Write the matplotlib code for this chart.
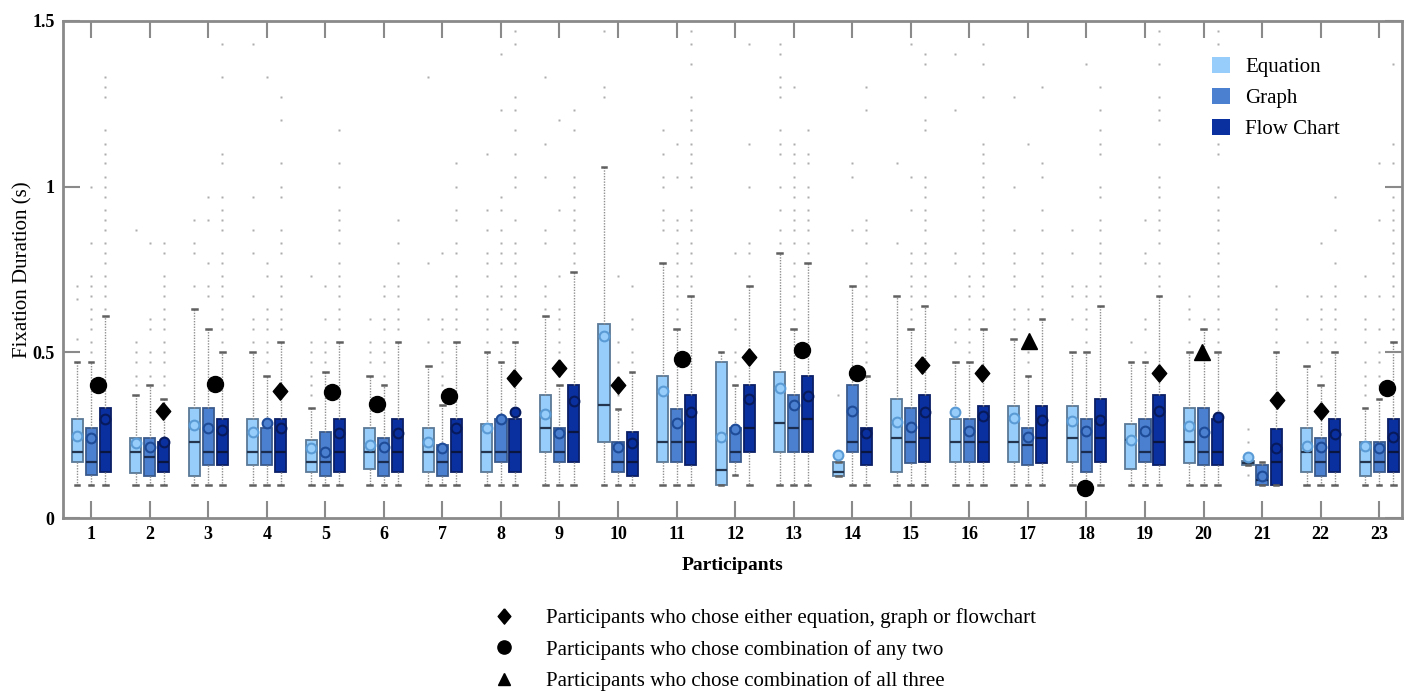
"""Fixation duration box plots per participant (Equation / Graph / Flow Chart)."""
import matplotlib

matplotlib.use("Agg")
import matplotlib.pyplot as plt
from matplotlib.lines import Line2D
from matplotlib.patches import Patch

plt.rcParams["font.family"] = ["Liberation Serif", "DejaVu Serif"]

# ---------------------------------------------------------------- data
participants = list(range(1, 24))
series_names = ["Equation", "Graph", "Flow Chart"]
y_ticks = [0, 0.5, 1, 1.5]
y_tick_labels = ["0", "0.5", "1", "1.5"]

eq_q1 = [0.17, 0.135, 0.128, 0.16, 0.138, 0.148, 0.138, 0.138, 0.20, 0.23, 0.17, 0.10,
         0.20, 0.128, 0.138, 0.17, 0.17, 0.17, 0.148, 0.165, 0.16, 0.138, 0.128]
eq_med = [0.20, 0.20, 0.23, 0.20, 0.17, 0.20, 0.20, 0.20, 0.271, 0.341, 0.23, 0.145,
          0.286, 0.138, 0.241, 0.23, 0.23, 0.241, 0.236, 0.23, 0.165, 0.198, 0.17]
eq_q3 = [0.30, 0.241, 0.331, 0.30, 0.236, 0.271, 0.271, 0.284, 0.37, 0.586, 0.43, 0.47,
         0.44, 0.168, 0.36, 0.30, 0.339, 0.339, 0.284, 0.331, 0.172, 0.271, 0.23]
eq_lo = [0.10, 0.10, 0.10, 0.10, 0.10, 0.10, 0.10, 0.10, 0.10, 0.10, 0.10, 0.10,
         0.10, 0.128, 0.10, 0.10, 0.10, 0.10, 0.10, 0.10, 0.16, 0.10, 0.10]
eq_hi = [0.47, 0.37, 0.631, 0.50, 0.331, 0.43, 0.46, 0.50, 0.611, 1.06, 0.77, 0.50,
         0.80, 0.168, 0.67, 0.47, 0.54, 0.50, 0.47, 0.50, 0.172, 0.46, 0.331]
eq_mean = [0.249, 0.225, 0.281, 0.261, 0.21, 0.219, 0.229, 0.271, 0.313, 0.55, 0.382, 0.244,
           0.392, 0.189, 0.289, 0.319, 0.301, 0.294, 0.234, 0.278, 0.183, 0.217, 0.217]
eq_fliers = [
    [0.54, 0.66, 0.70],
    [0.40, 0.43, 0.47, 0.50, 0.53, 0.87],
    [0.70, 0.80, 0.83, 0.90],
    [0.53, 0.57, 0.60, 0.67, 0.80, 0.87, 0.97, 1.43],
    [0.37, 0.40, 0.43, 0.47, 0.50, 0.53, 0.73],
    [0.47, 0.50, 0.53, 0.60],
    [0.53, 0.60, 0.77, 1.33],
    [0.53, 0.57, 0.60, 0.63, 0.67, 0.73, 0.77, 0.80, 0.87, 0.93, 1.10],
    [0.63, 0.67, 0.70, 0.83, 0.87, 1.03, 1.13, 1.33],
    [1.27, 1.30, 1.47],
    [0.87, 0.90, 0.93, 1.00, 1.03, 1.10, 1.17],
    [],
    [0.83, 0.87, 0.93, 1.00, 1.10, 1.13, 1.17, 1.27, 1.30, 1.33, 1.40, 1.43],
    [0.37],
    [0.83, 1.07],
    [0.53, 0.57, 0.67, 0.77, 0.80, 1.23, 1.40],
    [0.57, 0.60, 0.63, 0.70, 0.73, 0.77, 0.80, 0.87, 1.00, 1.27],
    [0.60, 0.67, 0.70, 0.80, 0.87],
    [0.53],
    [0.53, 0.60, 0.63, 0.67],
    [0.13, 0.23, 0.27],
    [0.53, 0.60, 0.67],
    [0.37, 0.40, 0.43, 0.47, 0.53, 0.57, 0.60, 0.67, 0.73],
]

gr_q1 = [0.13, 0.128, 0.16, 0.16, 0.128, 0.128, 0.128, 0.17, 0.17, 0.138, 0.17, 0.17,
         0.20, 0.20, 0.165, 0.17, 0.16, 0.138, 0.17, 0.16, 0.10, 0.128, 0.138]
gr_med = [0.17, 0.185, 0.20, 0.20, 0.17, 0.17, 0.17, 0.20, 0.20, 0.17, 0.23, 0.20,
          0.271, 0.23, 0.23, 0.23, 0.22, 0.20, 0.20, 0.20, 0.115, 0.17, 0.17]
gr_q3 = [0.271, 0.241, 0.331, 0.271, 0.259, 0.241, 0.22, 0.30, 0.271, 0.23, 0.329, 0.273,
         0.37, 0.40, 0.331, 0.30, 0.271, 0.30, 0.30, 0.331, 0.16, 0.241, 0.23]
gr_lo = [0.10, 0.10, 0.10, 0.10, 0.10, 0.10, 0.10, 0.10, 0.10, 0.10, 0.10, 0.13,
         0.10, 0.10, 0.10, 0.10, 0.10, 0.10, 0.10, 0.10, 0.10, 0.10, 0.10]
gr_hi = [0.47, 0.40, 0.571, 0.43, 0.44, 0.40, 0.34, 0.47, 0.40, 0.329, 0.571, 0.40,
         0.571, 0.70, 0.571, 0.47, 0.43, 0.50, 0.47, 0.571, 0.17, 0.40, 0.36]
gr_mean = [0.243, 0.215, 0.273, 0.287, 0.198, 0.215, 0.21, 0.299, 0.256, 0.215, 0.286, 0.268,
           0.341, 0.323, 0.276, 0.263, 0.246, 0.263, 0.263, 0.259, 0.128, 0.215, 0.21]
gr_fliers = [
    [0.50, 0.53, 0.57, 0.60, 0.63, 0.67, 0.70, 0.73, 0.83, 1.00],
    [0.43, 0.47, 0.50, 0.57, 0.60, 0.83],
    [0.67, 0.70, 0.77, 0.90, 0.97],
    [0.47, 0.50, 0.53, 0.57, 0.60, 0.63, 0.73, 0.77, 1.33],
    [0.47, 0.50, 0.53, 0.60, 0.70],
    [0.43, 0.47, 0.50, 0.53, 0.57, 0.60, 0.67, 0.70],
    [0.37, 0.40, 0.43, 0.47, 0.50, 0.53, 0.57, 0.60, 0.80],
    [0.50, 0.53, 0.57, 0.63, 0.67, 0.70, 0.77, 0.80, 0.83, 0.87, 0.93, 0.97, 1.23, 1.40],
    [0.43, 0.47, 0.50, 0.53, 0.57, 0.60, 0.63, 0.73, 0.93, 1.20],
    [0.37, 0.40, 0.47, 0.53, 0.73],
    [0.60, 0.63, 0.67, 0.70, 0.73, 0.77, 0.80, 0.83, 0.87, 0.90, 1.03, 1.13],
    [0.43, 0.47, 0.50, 0.57, 0.60, 0.80],
    [0.60, 0.63, 0.67, 0.70, 0.73, 0.77, 0.83, 0.87, 0.90, 0.93, 0.97, 1.00, 1.03, 1.07,
     1.10, 1.13, 1.30],
    [0.87, 1.03, 1.07],
    [0.60, 0.63, 0.67, 0.70, 0.73, 0.77, 0.80, 0.93, 1.03, 1.43],
    [0.50, 0.53, 0.57, 0.60, 0.67, 0.70, 0.73],
    [0.47, 0.50, 0.53, 0.60, 0.63, 1.13],
    [0.53, 0.57, 0.60, 0.63, 0.67, 0.70, 1.37],
    [0.50, 0.57, 0.60, 0.77, 0.80, 0.90],
    [0.60],
    [],
    [0.43, 0.47, 0.50, 0.53, 0.57, 0.60, 0.63, 0.67, 0.83],
    [0.40, 0.43, 0.47, 0.50, 0.57, 0.67, 0.90, 1.07],
]

fc_q1 = [0.138, 0.138, 0.16, 0.138, 0.138, 0.138, 0.138, 0.138, 0.17, 0.128, 0.16, 0.20,
         0.20, 0.16, 0.17, 0.17, 0.165, 0.17, 0.16, 0.16, 0.10, 0.138, 0.138]
fc_med = [0.20, 0.17, 0.20, 0.20, 0.20, 0.20, 0.20, 0.20, 0.259, 0.17, 0.23, 0.271,
          0.30, 0.20, 0.241, 0.23, 0.241, 0.241, 0.23, 0.20, 0.17, 0.20, 0.20]
fc_q3 = [0.331, 0.229, 0.30, 0.30, 0.30, 0.30, 0.30, 0.30, 0.40, 0.259, 0.37, 0.40,
         0.43, 0.271, 0.37, 0.339, 0.339, 0.36, 0.37, 0.30, 0.269, 0.30, 0.30]
fc_lo = [0.10, 0.10, 0.10, 0.10, 0.10, 0.10, 0.10, 0.10, 0.10, 0.10, 0.10, 0.10,
         0.10, 0.10, 0.10, 0.10, 0.10, 0.10, 0.10, 0.10, 0.10, 0.10, 0.10]
fc_hi = [0.611, 0.36, 0.50, 0.531, 0.531, 0.531, 0.531, 0.531, 0.743, 0.44, 0.67, 0.70,
         0.77, 0.43, 0.641, 0.571, 0.601, 0.641, 0.67, 0.50, 0.50, 0.50, 0.531]
fc_mean = [0.299, 0.229, 0.265, 0.271, 0.257, 0.257, 0.273, 0.319, 0.353, 0.226, 0.319, 0.359,
           0.367, 0.258, 0.319, 0.309, 0.296, 0.296, 0.323, 0.306, 0.212, 0.253, 0.244]
fc_fliers = [
    [0.63, 0.67, 0.70, 0.73, 0.77, 0.80, 0.83, 0.87, 0.90, 0.93, 0.97, 1.00, 1.03, 1.07,
     1.10, 1.13, 1.17, 1.27, 1.30, 1.33],
    [0.40, 0.43, 0.47, 0.50, 0.53, 0.57, 0.60, 0.63, 0.67, 0.70, 0.73, 0.80, 0.83],
    [0.53, 0.57, 0.60, 0.63, 0.67, 0.70, 0.73, 0.77, 0.80, 0.87, 0.90, 0.93, 0.97, 1.07,
     1.10, 1.33, 1.43],
    [0.57, 0.60, 0.63, 0.67, 0.70, 0.73, 0.80, 0.83, 0.87, 0.97, 1.00, 1.07, 1.20, 1.27],
    [0.57, 0.60, 0.63, 0.67, 0.70, 0.73, 0.77, 0.83, 0.87, 0.90, 0.93, 1.00, 1.07, 1.17],
    [0.57, 0.60, 0.63, 0.67, 0.70, 0.73, 0.77, 0.83, 0.90],
    [0.57, 0.60, 0.63, 0.67, 0.70, 0.73, 0.80, 0.83, 0.90, 0.93, 1.00, 1.07],
    [0.57, 0.60, 0.63, 0.67, 0.70, 0.73, 0.77, 0.80, 0.83, 0.90, 1.00, 1.03, 1.10, 1.17,
     1.23, 1.27, 1.43, 1.47],
    [0.77, 0.80, 0.83, 0.87, 0.90, 0.93, 0.97, 1.00, 1.03, 1.17, 1.23],
    [0.47, 0.50, 0.57, 0.60, 0.70],
    [0.70, 0.73, 0.77, 0.80, 0.83, 0.87, 0.90, 0.93, 1.00, 1.03, 1.07, 1.10, 1.13, 1.17,
     1.20, 1.23, 1.27, 1.37, 1.43, 1.47],
    [0.73, 0.80, 0.83, 1.00, 1.13, 1.43],
    [0.80, 0.83, 0.87, 0.90, 0.93, 0.97, 1.00, 1.07, 1.10, 1.17],
    [0.47, 0.50, 0.53, 0.57, 0.60, 0.63, 0.67, 0.70, 0.73, 0.77, 0.83, 0.87, 0.90, 1.23, 1.30],
    [0.67, 0.70, 0.73, 0.77, 0.80, 0.83, 0.87, 0.90, 0.93, 0.97, 1.00, 1.03, 1.17, 1.20,
     1.27, 1.37, 1.40],
    [0.60, 0.63, 0.67, 0.70, 0.73, 0.77, 0.80, 0.83, 0.87, 0.90, 0.93, 0.97, 1.00, 1.03,
     1.07, 1.10, 1.13, 1.27, 1.37, 1.43],
    [0.63, 0.67, 0.70, 0.73, 0.77, 0.80, 0.87, 0.93, 1.03, 1.07, 1.30],
    [0.67, 0.70, 0.73, 0.77, 0.80, 0.83, 0.87, 0.90, 0.97, 1.00, 1.10, 1.13, 1.17, 1.23, 1.30],
    [0.70, 0.73, 0.77, 0.83, 0.87, 0.90, 0.93, 0.97, 1.00, 1.03, 1.13, 1.20, 1.23, 1.27,
     1.37, 1.43, 1.47],
    [0.53, 0.57, 0.60, 0.63, 0.67, 0.70, 0.73, 0.77, 0.80, 0.83, 0.87, 0.90, 0.93, 0.97,
     1.00, 1.10, 1.13, 1.43, 1.47],
    [0.53, 0.57, 0.60, 0.63, 0.70],
    [0.53, 0.57, 0.60, 0.63, 0.67, 0.70, 0.77, 0.87, 0.97],
    [0.57, 0.60, 0.63, 0.67, 0.70, 0.73, 0.77, 0.80, 0.83, 0.87, 0.90, 0.93, 0.97, 1.07,
     1.13, 1.37],
]

# choice group of each participant and the height of its marker
choice = ["two", "one", "two", "one", "two", "two", "two", "one", "one", "one", "two", "one",
          "two", "two", "one", "one", "three", "two", "one", "three", "one", "one", "two"]
choice_value = [0.40, 0.323, 0.404, 0.384, 0.38, 0.344, 0.368, 0.422, 0.452, 0.402, 0.479,
                0.486, 0.508, 0.439, 0.462, 0.439, 0.535, 0.09, 0.439, 0.50, 0.356, 0.324, 0.392]
choice_order = ["one", "two", "three"]
choice_labels = {
    "one": "Participants who chose either equation, graph or flowchart",
    "two": "Participants who chose combination of any two",
    "three": "Participants who chose combination of all three",
}

# ---------------------------------------------------------------- layout / style
choice_dx = [0.12, 0.23, 0.12, 0.22, 0.11, -0.12, 0.11, 0.23, 0.0, 0.0, 0.10, 0.23,
             0.14, 0.09, 0.20, 0.21, 0.02, -0.03, 0.24, -0.03, 0.25, 0.0, 0.13]
tall_diamond = [(0, 1.2), (1.0, 0), (0, -1.2), (-1.0, 0), (0, 1.2)]
choice_marker = {"one": (tall_diamond, 12.5), "two": ("o", 11.5), "three": ("^", 11)}
legend_marker = {"one": (tall_diamond, 11), "two": ("o", 9.5), "three": ("^", 9)}

series_dx = [-0.24, 0.0, 0.24]
face = ["#96cdfa", "#4b7fcf", "#0a2f9e"]
edge = ["#5b7896", "#3b5a8c", "#0b1f66"]
median_col = ["#24364f", "#1a2c50", "#0a1640"]
mean_edge = ["#5b9bd5", "#1f4c98", "#071a5c"]
spine_col = "#8a8a8a"

series = [
    (eq_q1, eq_med, eq_q3, eq_lo, eq_hi, eq_mean, eq_fliers),
    (gr_q1, gr_med, gr_q3, gr_lo, gr_hi, gr_mean, gr_fliers),
    (fc_q1, fc_med, fc_q3, fc_lo, fc_hi, fc_mean, fc_fliers),
]

fig = plt.figure(figsize=(14.13, 6.92), dpi=100)
ax = fig.add_axes([0.0446, 0.2514, 0.9476, 0.7183])

for k, (q1, med, q3, lo, hi, mean, fl) in enumerate(series):
    stats = [
        dict(q1=q1[i], med=med[i], q3=q3[i], whislo=lo[i], whishi=hi[i],
             mean=mean[i], fliers=fl[i])
        for i in range(len(participants))
    ]
    pos = [p + series_dx[k] for p in participants]
    ax.bxp(
        stats, positions=pos, widths=0.19, capwidths=0.08,
        patch_artist=True, showmeans=True, manage_ticks=False,
        boxprops=dict(facecolor=face[k], edgecolor=edge[k], linewidth=1.3),
        medianprops=dict(color=median_col[k], linewidth=1.6),
        whiskerprops=dict(color="#8f8f8f", linestyle=(0, (1, 1)), linewidth=1.0),
        capprops=dict(color="#606060", linewidth=1.8),
        flierprops=dict(marker="s", markersize=1.9, markerfacecolor="#adadad",
                        markeredgecolor="none"),
        meanprops=dict(marker="o", markersize=7, markerfacecolor=face[k],
                       markeredgecolor=mean_edge[k], markeredgewidth=1.5),
    )

for i, p in enumerate(participants):
    m, ms = choice_marker[choice[i]]
    ax.plot(p + choice_dx[i], choice_value[i], linestyle="none", marker=m,
            markersize=ms, color="black", zorder=5)

ax.set_xlim(0.52, 23.39)
ax.set_ylim(0, 1.5)
ax.set_xticks(participants)
ax.set_xticklabels([str(p) for p in participants], fontsize=13, fontweight="bold")
ax.set_yticks(y_ticks)
ax.set_yticklabels(y_tick_labels, fontsize=13, fontweight="bold")
ax.tick_params(direction="in", length=12, width=1.5, color=spine_col,
               top=True, right=True, pad=6)
for s in ax.spines.values():
    s.set_color(spine_col)
    s.set_linewidth(2)

ax.set_xlabel("Participants", fontsize=14, fontweight="bold", labelpad=10)
ax.set_ylabel("Fixation Duration (s)", fontsize=15, labelpad=0)

series_handles = [Patch(facecolor=face[k], edgecolor="none") for k in range(3)]
ax.legend(series_handles, series_names, loc="upper left", bbox_to_anchor=(0.858, 0.928),
          frameon=False, fontsize=15, handlelength=0.85, handleheight=0.85,
          handletextpad=0.75, labelspacing=0.5, borderaxespad=0, borderpad=0)

choice_handles = [
    Line2D([], [], linestyle="none", marker=legend_marker[c][0],
           markersize=legend_marker[c][1], color="black")
    for c in choice_order
]
fig.legend(choice_handles, [choice_labels[c] for c in choice_order],
           loc="upper left", bbox_to_anchor=(0.349, 0.121), frameon=False, fontsize=15,
           handlelength=1.0, handletextpad=1.55, labelspacing=0.55, borderaxespad=0,
           borderpad=0)

fig.savefig("out.png", dpi=100)
